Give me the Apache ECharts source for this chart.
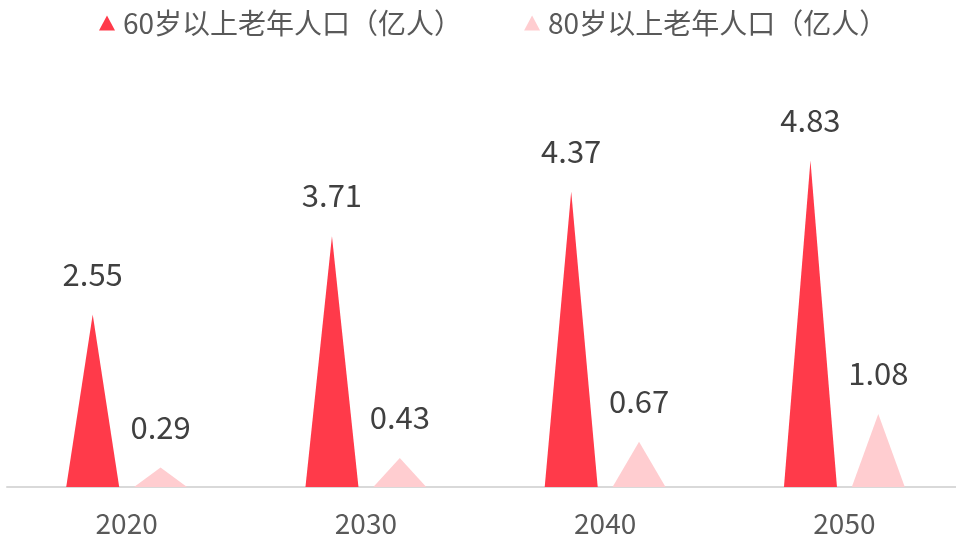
<!DOCTYPE html>
<html>
<head>
<meta charset="utf-8">
<style>
  html, body { margin: 0; padding: 0; background: #fff; }
  #chart { width: 956px; height: 540px; }
</style>
<script src="https://cdn.jsdelivr.net/npm/echarts@6/dist/echarts.min.js"></script>
</head>
<body>
<div id="chart"></div>
<script>
const years = ["2020", "2030", "2040", "2050"];
const over60 = [2.55, 3.71, 4.37, 4.83];
const over80 = [0.29, 0.43, 0.67, 1.08];
const seriesNames = ["60岁以上老年人口（亿人）", "80岁以上老年人口（亿人）"];

const font = "'Noto Sans CJK SC', 'Noto Sans', sans-serif";

let chart = echarts.init(document.getElementById("chart"));

function makeSeries(name, data, color) {
    return {
        name: name,
        type: "pictorialBar",
        symbol: "triangle",
        barWidth: 53,
        barGap: "28%",
        itemStyle: { color: color },
        label: {
            show: true,
            position: "top",
            distance: 25,
            color: "#404040",
            fontSize: 31,
            fontFamily: font
        },
        data: data
    };
}

chart.setOption({
    animation: false,
    legend: {
        top: 4,
        left: 94,
        itemWidth: 16,
        itemHeight: 15,
        itemGap: 62,
        icon: "triangle",
        textStyle: {
            color: "#595959",
            fontSize: 28,
            fontFamily: font,
            padding: [0, 0, 0, 3]
        },
        data: seriesNames
    },
    grid: {
        left: 7,
        right: -8,
        top: 149,
        bottom: 53,
        containLabel: false,
        outerBoundsMode: "none"
    },
    xAxis: {
        type: "category",
        data: years,
        axisLine: { lineStyle: { color: "#d9d9d9", width: 2 } },
        axisTick: { show: false },
        axisLabel: {
            color: "#595959",
            fontSize: 28,
            fontFamily: font,
            margin: 22
        }
    },
    yAxis: {
        type: "value",
        min: 0,
        max: 5,
        show: false
    },
    series: [
        makeSeries(seriesNames[0], over60, "#ff3a4a"),
        makeSeries(seriesNames[1], over80, "#ffcdd0")
    ]
});
</script>
</body>
</html>
